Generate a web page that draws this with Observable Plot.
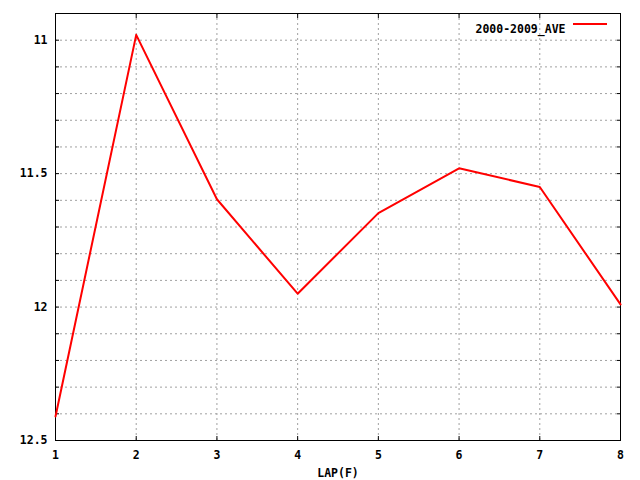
<!DOCTYPE html>
<html>
<head>
<meta charset="utf-8">
<script src="https://cdn.jsdelivr.net/npm/d3@7"></script>
<script src="https://cdn.jsdelivr.net/npm/@observablehq/plot@0.6"></script>
<style>
  html, body { margin: 0; padding: 0; background: #fff; }
  svg { display: block; }
</style>
</head>
<body>
<div id="chart"></div>
<script>
const laps = [1, 2, 3, 4, 5, 6, 7, 8];
const ave = [12.41, 10.98, 11.596, 11.95, 11.648, 11.48, 11.55, 11.99];
const seriesName = "2000-2009_AVE";
const xLabel = "LAP(F)";
const yMajorTicks = [11, 11.5, 12, 12.5];
const yMinorTicks = [10.9, 11, 11.1, 11.2, 11.3, 11.4, 11.5, 11.6, 11.7, 11.8, 11.9, 12, 12.1, 12.2, 12.3, 12.4, 12.5];
const xTicks = [1, 2, 3, 4, 5, 6, 7, 8];
const xGrid = [2, 3, 4, 5, 6, 7];

const data = laps.map((x, i) => ({x, y: ave[i]}));
const font = "'DejaVu Sans Mono', monospace";

const legendLine = (index, scales, values, dim) => {
  const g = d3.create("svg:g");
  const xr = dim.width - dim.marginRight;
  g.append("line")
    .attr("x1", xr - 47).attr("x2", xr - 13)
    .attr("y1", dim.marginTop + 11).attr("y2", dim.marginTop + 11)
    .attr("stroke", "#ff0000").attr("stroke-width", 2);
  return g.node();
};

const chart = Plot.plot({
  width: 640,
  height: 480,
  marginLeft: 55,
  marginRight: 20,
  marginTop: 13,
  marginBottom: 40,
  style: {fontFamily: font, fontSize: "11.5px", fontWeight: "bold", color: "black", background: "white"},
  x: {domain: [1, 8]},
  y: {domain: [10.9, 12.5], reverse: true},
  marks: [
    Plot.gridY(yMinorTicks, {stroke: "#a0a0a0", strokeOpacity: 1, strokeDasharray: "2,3"}),
    Plot.gridX(xGrid, {stroke: "#a0a0a0", strokeOpacity: 1, strokeDasharray: "2,3"}),
    Plot.axisY(yMinorTicks, {anchor: "left", tickSize: -4, text: null, label: null}),
    Plot.axisY(yMinorTicks, {anchor: "right", tickSize: -4, text: null, label: null}),
    Plot.axisX(xTicks, {anchor: "top", tickSize: -4, text: null, label: null}),
    Plot.axisX(xTicks, {anchor: "bottom", tickSize: -4, text: null, label: null}),
    Plot.axisY(yMajorTicks, {anchor: "left", tickSize: 0, tickPadding: 8, label: null, tickFormat: d => String(d), fontSize: 11.5}),
    Plot.axisX(xTicks, {anchor: "bottom", tickSize: 0, tickPadding: 10, label: xLabel, labelAnchor: "center", labelArrow: "none", labelOffset: 36, tickFormat: d => String(d), fontSize: 11.5}),
    Plot.frame({stroke: "black", strokeWidth: 1}),
    Plot.line(data, {x: "x", y: "y", stroke: "#ff0000", strokeWidth: 2}),
    Plot.text([seriesName], {frameAnchor: "top-right", dx: -55, dy: 11, textAnchor: "end", fontSize: 11.5, fontWeight: "bold", fill: "black"}),
    legendLine
  ]
});
document.getElementById("chart").append(chart);
</script>
</body>
</html>
